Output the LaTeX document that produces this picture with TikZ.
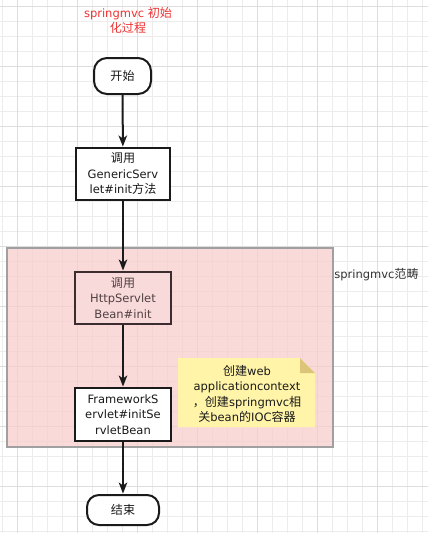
\documentclass[tikz,border=0pt]{standalone}
\usepackage{fontspec}
\setmainfont{DejaVu Sans}
\newfontfamily\cjk[Scale=1.05]{Noto Sans CJK SC}
\usetikzlibrary{arrows.meta}
\definecolor{gridminor}{RGB}{236,236,236}
\definecolor{gridmajor}{RGB}{221,221,221}
\definecolor{pinkfill}{RGB}{248,206,204}
\definecolor{pinksolid}{RGB}{249,218,218}
\definecolor{pinkline}{RGB}{160,160,160}
\definecolor{notefill}{RGB}{255,244,168}
\definecolor{notefold}{RGB}{220,196,120}
\definecolor{titlered}{RGB}{240,50,50}
\definecolor{ink}{RGB}{26,26,26}
\definecolor{inkpink}{RGB}{60,44,47}
\definecolor{textpink}{RGB}{80,64,66}
\definecolor{labelgray}{RGB}{51,51,51}
\begin{document}
\begin{tikzpicture}[x=1pt,y=-1pt,
  txt/.style={align=center, inner sep=0pt, font=\fontsize{11.5}{15.5}\selectfont, text=ink},
  box/.style={txt, draw=ink, line width=2pt, fill=white},
  term/.style={box, rounded corners=13pt},
  flow/.style={draw=ink, line width=2pt, shorten >=0.5pt, -{Stealth[length=11pt,width=8.5pt,inset=3pt]}}]
\useasboundingbox (0,0) rectangle (428,533);
\fill[white] (0,0) rectangle (428,533);
% grid
\foreach \i in {0,...,28} {\draw[gridminor, line width=1pt] ({2.3+15*\i},0) -- ({2.3+15*\i},533);}
\foreach \j in {0,...,35} {\draw[gridminor, line width=1pt] (0,{6+15*\j}) -- (428,{6+15*\j});}
\foreach \i in {0,...,6} {\draw[gridmajor, line width=1pt] ({17.3+60*\i},0) -- ({17.3+60*\i},533);}
\foreach \j in {0,...,8} {\draw[gridmajor, line width=1pt] (0,{6+60*\j}) -- (428,{6+60*\j});}

% title
\node[txt, text=titlered, font=\fontsize{11.5}{14.5}\selectfont] (title) at (128,20.5) {springmvc {\cjk 初始}\\{\cjk 化过程}};

% container
\path[fill=pinkfill, fill opacity=0.75, draw=pinkline, line width=1.2pt] (7,248) rectangle (333,447);
\node[txt, text=labelgray] (scope) at (376.5,274.5) {springmvc{\cjk 范畴}};

% nodes
\node[term, minimum width=57pt, minimum height=36pt] (start) at (122.5,76) {\cjk 开始};
\node[box, minimum width=94pt, minimum height=52pt] (init) at (123,174) {{\cjk 调用}\\GenericServ\\let\#init{\cjk 方法}};
\node[box, draw=inkpink, fill=pinksolid, text=textpink, minimum width=96pt, minimum height=52pt] (http) at (123,298) {{\cjk 调用}\\HttpServlet\\Bean\#init};
\node[box, minimum width=96pt, minimum height=53pt] (fw) at (123,414.5) {FrameworkS\\ervlet\#initSe\\rvletBean};
\node[term, rounded corners=12pt, minimum width=72pt, minimum height=30pt] (end) at (123,510) {\cjk 结束};

% note
\fill[notefill] (178,358) -- (300,358) -- (315,373) -- (315,427) -- (178,427) -- cycle;
\fill[notefold] (300,358) -- (315,373) -- (300,373) -- cycle;
\node[txt] (note) at (247,394) {{\cjk 创建}web\\applicationcontext\\{\cjk ，创建}springmvc{\cjk 相}\\{\cjk 关}bean{\cjk 的}IOC{\cjk 容器}};

% connectors
\draw[flow] (start) -- (init);
\draw[flow] (init) -- (http);
\draw[flow] (http) -- (fw);
\draw[flow] (fw) -- (end);
\end{tikzpicture}
\end{document}
